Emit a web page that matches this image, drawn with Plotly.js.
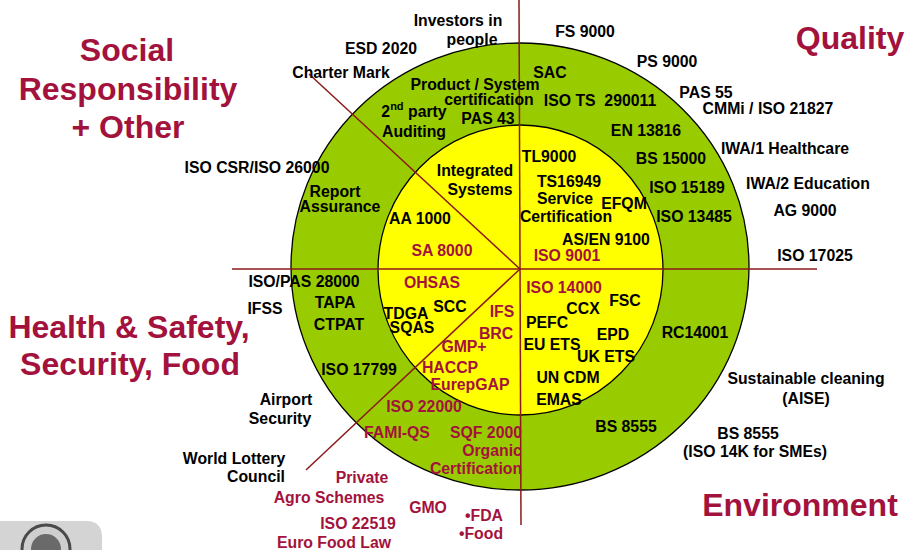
<!DOCTYPE html>
<html>
<head>
<meta charset="utf-8">
<script src="https://cdn.plot.ly/plotly-3.0.1.min.js"></script>
<style>html,body{margin:0;padding:0;background:#fff;}#chart{width:909px;height:550px;}</style>
</head>
<body>
<div id="chart"></div>
<script>
// ---- Category titles (four quadrants) ----
const titleLabels = ["Social", "Responsibility", "+ Other", "Quality", "Health & Safety,", "Security, Food", "Environment"];

// ---- Standards, black text ----
const blackLabels = [
  "Investors in", "people", "ESD 2020", "Charter Mark", "FS 9000", "PS 9000", "PAS 55",
  "CMMi / ISO 21827", "IWA/1 Healthcare", "IWA/2 Education", "AG 9000", "ISO 17025",
  "ISO CSR/ISO 26000", "ISO/PAS 28000", "IFSS", "Airport", "Security", "World Lottery", "Council",
  "Sustainable cleaning", "(AISE)", "BS 8555", "(ISO 14K for SMEs)",
  "Product / System", "certification", "SAC", "ISO TS\u00a0 290011", "PAS 43", "2<sup>nd</sup> party", "Auditing",
  "EN 13816", "BS 15000", "ISO 15189", "ISO 13485", "Report", "Assurance", "TAPA", "CTPAT",
  "ISO 17799", "RC14001", "BS 8555",
  "Integrated", "Systems", "AA 1000", "TL9000", "TS16949", "Service", "Certification", "EFQM",
  "AS/EN 9100", "TDGA", "SQAS", "SCC", "CCX", "FSC", "PEFC", "EPD", "EU ETS", "UK ETS", "UN CDM", "EMAS"
];

// ---- Standards, red text ----
const redLabels = [
  "Private", "Agro Schemes", "GMO", "ISO 22519", "Euro Food Law", "\u2022FDA", "\u2022Food",
  "ISO 22000", "FAMI-QS", "SQF 2000", "Organic", "Certification",
  "SA 8000", "ISO 9001", "OHSAS", "ISO 14000", "IFS", "BRC", "GMP+", "HACCP", "EurepGAP"
];

// ---- Label placement (pixel coordinates of the picture) ----
const titleX = [127, 128, 128, 850, 129, 130, 800];
const titleY = [53, 92, 130, 41, 330, 367, 508];

const blackX = [
  458, 472, 381, 341, 585, 667, 706,
  768, 785, 808, 805, 815,
  257, 304, 265, 286, 280, 234, 256,
  806, 806, 748, 755,
  475, 489, 550, 600, 488, 414, 414,
  646, 671, 687, 694, 335, 340, 335, 339,
  359, 695, 626,
  475, 480, 420, 549, 569, 565, 566, 624,
  606, 406, 412, 450, 583, 625, 547, 613, 552, 606, 568, 559
];
const blackY = [
  22, 41, 50, 74, 33, 63, 94,
  110, 150, 185, 212, 257,
  169, 283, 310, 401, 420, 460, 478,
  380, 400, 435, 453,
  86, 101, 74, 102, 120, 113, 133,
  132, 160, 189, 218, 193, 208, 304, 326,
  371, 334, 428,
  172, 191, 220, 158, 183, 200, 218, 205,
  241, 315, 329, 308, 310, 302, 324, 336, 346, 358, 379, 401
];

const redX = [362, 329, 428, 358, 334, 484, 481, 424, 397, 486, 492, 476, 442, 567, 432, 564, 502, 496, 464, 450, 470];
const redY = [479, 499, 509, 525, 544, 517, 535, 408, 434, 434, 452, 470, 252, 257, 284, 289, 313, 335, 348, 369, 386];

const FONT = "Liberation Sans, Arial, sans-serif";
const RED = "#a3123c";

function textTrace(labels, xs, ys, size, color) {
  return {
    type: "scatter", mode: "text", x: xs, y: ys, text: labels,
    textposition: "middle center", hoverinfo: "skip", cliponaxis: false,
    textfont: {family: FONT, size: size, color: color, weight: "bold"}
  };
}

const traces = [
  textTrace(titleLabels, titleX, titleY, 32, RED),
  textTrace(blackLabels, blackX, blackY, 15.8, "#000000"),
  textTrace(redLabels, redX, redY, 15.8, RED)
];

const lineCol = "#8b1a1a";
const shapes = [
  // logo panel
  {type: "path", path: "M 0 521 L 86 521 Q 102 521 102 537 L 102 550 L 0 550 Z", fillcolor: "#d4d4d4", line: {width: 0}, layer: "below"},
  {type: "circle", x0: 22, x1: 70, y0: 525, y1: 573, fillcolor: "#cfcfcf", line: {color: "#4a4a4a", width: 3}, layer: "below"},
  {type: "circle", x0: 31, x1: 61, y0: 534, y1: 564, fillcolor: "#6a6a6a", line: {width: 0}, layer: "below"},
  // rings
  {type: "circle", x0: 291, x1: 749, y0: 43, y1: 490, fillcolor: "#99cc00", line: {color: "#000", width: 1.3}, layer: "below"},
  {type: "circle", x0: 378, x1: 663, y0: 125, y1: 415, fillcolor: "#ffff00", line: {color: "#000", width: 1.3}, layer: "below"},
  // dividing lines
  {type: "line", x0: 519, y0: 0, x1: 521, y1: 525, line: {color: lineCol, width: 1.5}, layer: "below"},
  {type: "line", x0: 232, y0: 269, x1: 817, y1: 269, line: {color: lineCol, width: 1.5}, layer: "below"},
  {type: "line", x0: 309, y0: 74, x1: 520, y1: 269, line: {color: lineCol, width: 1.5}, layer: "below"},
  {type: "line", x0: 520, y0: 269, x1: 306, y1: 470, line: {color: lineCol, width: 1.5}, layer: "below"}
];

const layout = {
  width: 909, height: 550,
  margin: {l: 0, r: 0, t: 0, b: 0},
  paper_bgcolor: "#ffffff", plot_bgcolor: "#ffffff",
  showlegend: false, hovermode: false,
  xaxis: {range: [0, 909], visible: false, fixedrange: true},
  yaxis: {range: [550, 0], visible: false, fixedrange: true},
  shapes: shapes
};

Plotly.newPlot("chart", traces, layout, {staticPlot: true, displayModeBar: false});
</script>
</body>
</html>
